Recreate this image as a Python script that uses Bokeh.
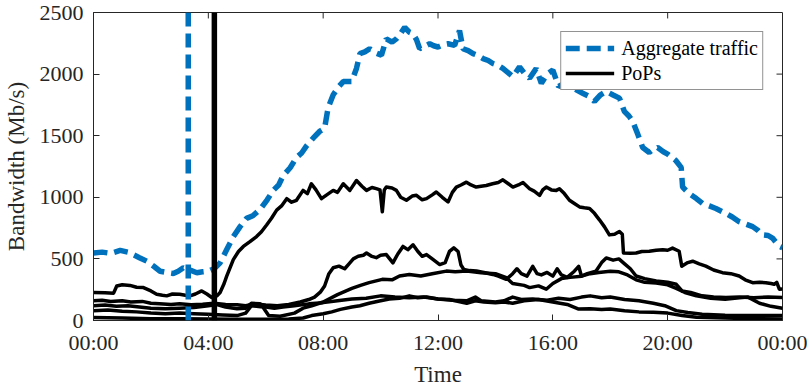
from bokeh.plotting import figure
from bokeh.models import FixedTicker, Span, Legend, LegendItem, Range1d
from bokeh.embed import file_html
from bokeh.resources import INLINE

# ---------------- data (hours since 00:00, Mb/s) ----------------
x_ticks = [0, 4, 8, 12, 16, 20, 24]
x_tick_labels = ["00:00", "04:00", "08:00", "12:00", "16:00", "20:00", "00:00"]
y_ticks = [0, 500, 1000, 1500, 2000, 2500]

agg_t = [0.0, 0.3, 0.6, 0.93, 1.2, 1.39, 1.6, 1.86, 2.1, 2.32, 2.55, 2.78, 2.95, 3.13, 3.35, 3.6, 3.8, 4.0,
         4.2, 4.41, 4.65, 4.87, 5.1, 5.33, 5.55, 5.8, 6.05, 6.26, 6.45, 6.61, 6.85, 7.07, 7.25, 7.42, 7.65,
         7.89, 8.05, 8.17, 8.35, 8.55, 8.7, 8.99, 9.16, 9.28, 9.45, 9.62, 9.85, 10.03, 10.2, 10.4, 10.55,
         10.7, 10.84, 11.0, 11.13, 11.25, 11.36, 11.5, 11.71, 11.85, 12.0, 12.2, 12.35, 12.58, 12.75, 12.87,
         13.05, 13.22, 13.4, 13.57, 13.75, 13.91, 14.1, 14.26, 14.45, 14.61, 14.84, 15.0, 15.19, 15.42, 15.6,
         15.8, 16.0, 16.2, 16.45, 16.7, 17.04, 17.25, 17.45, 17.65, 17.86, 18.1, 18.32, 18.49, 18.65, 18.78,
         18.96, 19.13, 19.36, 19.5, 19.65, 19.85, 20.0, 20.29, 20.47, 20.52, 20.75, 21.0, 21.22, 21.45, 21.68,
         22.03, 22.25, 22.49, 22.75, 22.96, 23.15, 23.3, 23.5, 23.65, 23.89, 24.0]
agg = [548, 555, 545, 569, 555, 534, 510, 481, 440, 400, 390, 382, 400, 428, 410, 388, 395, 400,
       420, 468, 580, 681, 760, 829, 850, 901, 980, 1056, 1100, 1177, 1240, 1323, 1360, 1417, 1480,
       1538, 1560, 1725, 1832, 1900, 1939, 1939, 2046, 2166, 2180, 2206, 2170, 2153, 2286, 2260, 2286,
       2330, 2380, 2340, 2327, 2280, 2206, 2220, 2246, 2230, 2220, 2240, 2246, 2233, 2354, 2206,
       2190, 2166, 2150, 2126, 2110, 2086, 2070, 2046, 2010, 1979, 2059, 2010, 1966, 2046, 1925,
       2000, 2033, 1899, 1930, 1886, 1845, 1820, 1778, 1830, 1859, 1830, 1805, 1698, 1660, 1618,
       1511, 1404, 1364, 1390, 1404, 1370, 1351, 1297, 1243, 1083, 1030, 990, 949, 930, 909,
       869, 840, 802, 780, 762, 730, 695, 690, 669, 601, 590]

pop1_t = [0.0, 0.4, 0.7, 0.81, 1.0, 1.27, 1.5, 1.74, 2.0, 2.2, 2.4, 2.55, 2.75, 3.0, 3.2, 3.36, 3.55, 3.77,
          3.95, 4.12, 4.3, 4.41, 4.55, 4.64, 4.87, 5.05, 5.22, 5.45, 5.68, 5.85, 6.03, 6.2, 6.38, 6.55, 6.73,
          6.9, 7.07, 7.3, 7.45, 7.59, 7.75, 7.94, 8.1, 8.35, 8.5, 8.7, 8.93, 9.16, 9.35, 9.51, 9.7, 9.85,
          9.98, 10.06, 10.13, 10.2, 10.4, 10.55, 10.7, 10.9, 11.1, 11.25, 11.45, 11.6, 11.8, 11.94, 12.15,
          12.35, 12.5, 12.64, 12.8, 12.99, 13.15, 13.33, 13.5, 13.68, 13.9, 14.1, 14.26, 14.45, 14.61, 14.8,
          14.96, 15.19, 15.35, 15.54, 15.65, 15.77, 15.95, 16.12, 16.23, 16.4, 16.58, 16.75, 16.93, 17.1,
          17.28, 17.45, 17.63, 17.8, 17.97, 18.15, 18.32, 18.42, 18.46, 18.7, 18.9, 19.1, 19.36, 19.6, 19.83,
          20.0, 20.17, 20.4, 20.49, 20.7, 20.87, 21.1, 21.33, 21.6, 21.91, 22.2, 22.49, 22.7, 22.96, 23.2,
          23.42, 23.6, 23.71, 23.8, 23.89, 24.0]
pop1 = [227, 225, 222, 280, 290, 285, 270, 267, 240, 213, 205, 200, 215, 213, 205, 200, 215, 240,
        215, 187, 200, 227, 300, 360, 494, 560, 601, 640, 681, 720, 775, 830, 896, 930, 989,
        960, 976, 1056, 1030, 1110, 1060, 989, 1016, 1056, 1040, 1110, 1056, 1136, 1090, 1056, 1080, 1070,
        1060, 882, 1060, 1083, 1075, 1056, 1000, 976, 1010, 1016, 980, 989, 1020, 1043, 1000,
        962, 1040, 1083, 1100, 1123, 1100, 1083, 1090, 1096, 1110, 1120, 1142, 1110, 1083, 1100,
        1120, 1070, 1050, 1016, 1060, 1083, 1060, 1056, 1070, 1030, 976, 950, 922, 915,
        909, 870, 815, 760, 695, 700, 722, 700, 548, 545, 548, 560, 562, 570, 575,
        570, 588, 562, 441, 470, 481, 460, 441, 410, 388, 380, 361, 330, 307, 310,
        307, 300, 294, 310, 254, 255]

pop2_t = [0.0, 0.3, 0.6, 1.0, 1.3, 1.7, 2.0, 2.3, 2.7, 3.0, 3.4, 3.8, 4.2, 4.6, 5.0, 5.3, 5.6, 6.0, 6.4,
          6.8, 7.2, 7.5, 7.7, 7.9, 8.05, 8.2, 8.35, 8.55, 8.75, 8.9, 9.05, 9.22, 9.4, 9.51, 9.7, 9.85, 10.0,
          10.2, 10.43, 10.6, 10.78, 10.95, 11.13, 11.3, 11.45, 11.6, 11.8, 12.06, 12.25, 12.4, 12.55, 12.7,
          12.8, 12.9, 13.1, 13.34, 13.6, 13.91, 14.1, 14.38, 14.6, 14.75, 14.9, 15.1, 15.3, 15.45, 15.6, 15.8,
          16.0, 16.15, 16.3, 16.5, 16.75, 16.9, 17.0, 17.2, 17.5, 17.7, 17.86, 18.1, 18.3, 18.5, 18.7, 18.9,
          19.2, 19.6, 20.0, 20.3, 20.5, 20.8, 21.2, 21.6, 22.03, 22.5, 23.0, 23.5, 24.0]
pop2 = [160, 165, 155, 160, 150, 155, 140, 135, 130, 135, 128, 132, 140, 130, 128, 120, 135, 125, 120,
        130, 150, 170, 190, 230, 280, 380, 428, 441, 420, 460, 500, 521, 530, 548, 520, 510, 530,
        535, 468, 540, 601, 575, 615, 560, 521, 535, 500, 454, 470, 561, 590, 560,
        450, 414, 405, 401, 390, 374, 360, 334, 380, 420, 380, 360, 440, 380, 370, 390,
        360, 420, 370, 350, 400, 440, 360, 380, 400, 470, 508, 490, 500, 460, 420, 361,
        340, 320, 310, 294, 240, 227, 200, 190, 187, 190, 185, 190, 187]

pop3_t = [0.0, 0.5, 1.0, 1.5, 2.0, 2.5, 3.0, 3.5, 4.0, 4.5, 5.0, 5.3, 5.5, 5.9, 6.1, 6.5, 7.0, 7.3, 7.6,
          8.0, 8.5, 9.0, 9.3, 9.6, 10.06, 10.4, 10.66, 11.0, 11.4, 11.8, 12.29, 12.6, 13.0, 13.5, 14.0,
          14.38, 14.6, 15.0, 15.19, 15.5, 15.77, 16.0, 16.3, 16.6, 17.0, 17.3, 17.6, 18.0, 18.3, 18.6, 18.9,
          19.2, 19.6, 20.0, 20.3, 20.6, 21.0, 21.5, 22.0, 22.5, 22.8, 23.2, 23.6, 24.0]
pop3 = [80, 85, 75, 70, 60, 55, 60, 55, 50, 45, 40, 60, 120, 110, 40, 35, 60, 100, 120,
        150, 210, 260, 285, 307, 334, 330, 361, 374, 361, 380, 401, 395, 401, 388, 380,
        347, 300, 285, 267, 281, 254, 300, 340, 350, 360, 380, 390, 400, 395, 370, 330,
        310, 305, 290, 260, 227, 200, 180, 173, 185, 190, 140, 115, 100]

pop4_t = [0.0, 0.4, 0.8, 1.2, 1.6, 2.0, 2.5, 3.0, 3.5, 4.0, 4.3, 4.6, 5.0, 5.3, 5.5, 5.8, 6.0, 6.3, 6.6,
          7.0, 7.5, 8.0, 8.5, 9.0, 9.5, 10.0, 10.5, 11.0, 11.5, 12.0, 12.5, 13.0, 13.3, 13.5, 14.0, 14.3,
          14.6, 14.9, 15.3, 15.8, 16.2, 16.6, 17.0, 17.3, 17.7, 18.0, 18.5, 19.0, 19.5, 19.9, 20.3, 20.7,
          21.2, 22.0, 23.0, 24.0]
pop4 = [120, 125, 115, 120, 110, 100, 95, 100, 105, 120, 130, 110, 95, 100, 140, 135, 110, 100, 110,
        120, 135, 145, 160, 175, 180, 200, 190, 185, 190, 175, 165, 160, 190, 160, 150, 160,
        190, 170, 175, 165, 180, 170, 190, 200, 185, 190, 170, 160, 140, 120, 80, 65,
        50, 42, 40, 40]

pop5_t = [0.0, 1.0, 2.0, 3.0, 4.0, 5.0, 6.0, 6.8, 7.3, 7.6, 8.0, 8.3, 8.6, 9.0, 9.28, 9.6, 10.0, 10.3,
          10.66, 11.0, 11.3, 11.6, 12.0, 12.4, 12.8, 13.0, 13.3, 13.6, 14.0, 14.3, 14.6, 15.0, 15.5, 16.0,
          16.5, 16.9, 17.3, 17.7, 18.0, 18.5, 19.0, 19.5, 20.0, 20.5, 21.0, 22.0, 23.0, 24.0]
pop5 = [25, 20, 15, 15, 12, 10, 10, 12, 20, 40, 55, 70, 90, 110, 120, 140, 160, 175,
        180, 200, 185, 190, 175, 170, 150, 140, 160, 150, 145, 150, 140, 160, 170, 150,
        130, 93, 95, 90, 93, 80, 70, 67, 60, 40, 27, 20, 15, 13]

agg_marker_time = 3.3    # dashed blue vertical marker (h)
pop_marker_time = 4.21   # solid black vertical marker (h)

# ---------------- styling ----------------
BLUE = "#0072BD"
DARK = "#262626"
FONT = "Liberation Serif"
TICK_FS = "22px"
LABEL_FS = "23px"
LEGEND_FS = "20px"

W, H = 809, 389
BL, BR, BT, BB = 93, 27, 12, 67
X0, X1, Y0, Y1 = 0, 24, 0, 2500
TICK_PX = 6

p = figure(width=W, height=H, output_backend="svg", toolbar_location=None,
           x_range=Range1d(X0, X1), y_range=Range1d(Y0, Y1),
           min_border_left=BL, min_border_right=BR, min_border_top=BT, min_border_bottom=BB)
p.grid.visible = False
p.outline_line_color = DARK
p.outline_line_width = 1
p.background_fill_color = "white"
p.border_fill_color = "white"


def style_axis(ax):
    ax.axis_line_color = DARK
    ax.major_tick_line_color = DARK
    ax.major_tick_in = TICK_PX
    ax.major_tick_out = 0
    ax.minor_tick_line_color = None
    ax.major_label_text_font = FONT
    ax.major_label_text_font_size = TICK_FS
    ax.major_label_text_color = DARK
    ax.axis_label_text_font = FONT
    ax.axis_label_text_font_size = LABEL_FS
    ax.axis_label_text_font_style = "normal"
    ax.axis_label_text_color = DARK


xax = p.xaxis[0]
xax.ticker = FixedTicker(ticks=x_ticks)
xax.major_label_overrides = {t: l for t, l in zip(x_ticks, x_tick_labels)}
xax.axis_label = "Time"
style_axis(xax)
xax.major_label_standoff = 9
xax.axis_label_standoff = 4

yax = p.yaxis[0]
yax.ticker = FixedTicker(ticks=y_ticks)
yax.axis_label = "Bandwidth (Mb/s)"
style_axis(yax)
yax.major_label_standoff = 10
yax.axis_label_standoff = 8

# inward tick marks on the top and right edges of the box (MATLAB "box on")
frame_w = W - BL - BR
frame_h = H - BT - BB
dy = (Y1 - Y0) / frame_h * TICK_PX
dx = (X1 - X0) / frame_w * TICK_PX
top_x = x_ticks[1:-1]
p.segment(x0=top_x, y0=[Y1] * len(top_x), x1=top_x, y1=[Y1 - dy] * len(top_x),
          line_color=DARK, line_width=1)
right_y = y_ticks[1:-1]
p.segment(x0=[X1] * len(right_y), y0=right_y, x1=[X1 - dx] * len(right_y), y1=right_y,
          line_color=DARK, line_width=1)

pop_r = p.multi_line(xs=[pop1_t, pop2_t, pop3_t, pop4_t, pop5_t],
                     ys=[pop1, pop2, pop3, pop4, pop5],
                     line_color="black", line_width=3.5, line_join="round")
agg_r = p.line(agg_t, agg, line_color=BLUE, line_width=5.5, line_dash="14 7")

p.add_layout(Span(location=agg_marker_time, dimension="height", line_color=BLUE,
                  line_width=5.5, line_dash="14 7"))
p.add_layout(Span(location=pop_marker_time, dimension="height", line_color="black",
                  line_width=5.5))

legend = Legend(items=[LegendItem(label="Aggregate traffic", renderers=[agg_r]),
                       LegendItem(label="PoPs", renderers=[pop_r])],
                location="top_right")
legend.margin = 19
legend.padding = 4
legend.spacing = 1
legend.glyph_width = 49
legend.glyph_height = 24
legend.label_height = 24
legend.label_standoff = 7
legend.label_text_font = FONT
legend.label_text_font_size = LEGEND_FS
legend.label_text_color = "black"
legend.border_line_color = DARK
legend.border_line_width = 1
legend.background_fill_color = "white"
legend.background_fill_alpha = 1.0
p.add_layout(legend)

open("out.html", "w").write(file_html(p, INLINE))
